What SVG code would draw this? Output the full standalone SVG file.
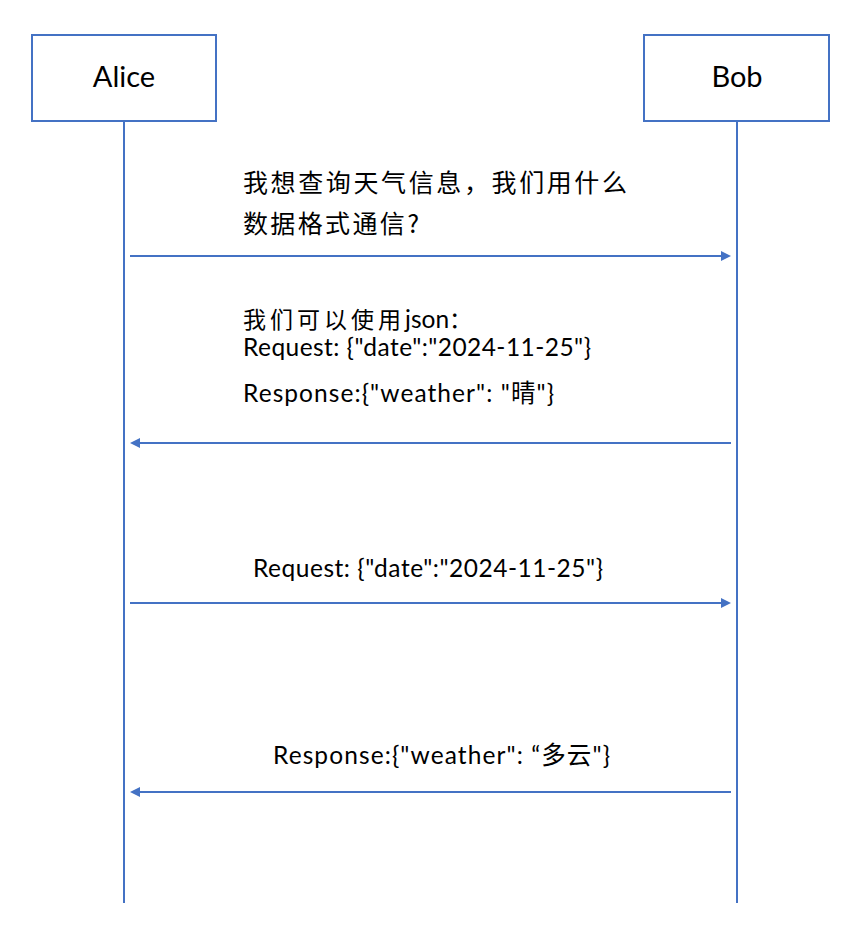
<svg xmlns="http://www.w3.org/2000/svg" width="852" height="930" viewBox="0 0 852 930">
  <style>
    .box { fill: #ffffff; stroke: #4472C4; stroke-width: 2; }
    .life { stroke: #4472C4; stroke-width: 2; fill: none; }
    .msg { stroke: #4472C4; stroke-width: 2; fill: none; marker-end: url(#arrow); }
    .name { font-family: "Lato", "Noto Sans", sans-serif; font-size: 29px; fill: #000; text-anchor: middle; }
    .cjk { font-family: "Noto Sans CJK SC", sans-serif; font-size: 25px; fill: #000; }
    .lbl { font-family: "Lato", "Noto Sans CJK SC", sans-serif; font-size: 24.5px; fill: #000; }
    .han { font-family: "Noto Sans CJK SC", sans-serif; font-size: 23px; }
  </style>
  <defs>
    <marker id="arrow" markerUnits="userSpaceOnUse" markerWidth="10" markerHeight="10" refX="1" refY="5" orient="auto">
      <path d="M0,0 L10,5 L0,10 z" fill="#4472C4"/>
    </marker>
  </defs>
  <rect width="852" height="930" fill="#ffffff"/>

  <g id="alice">
    <rect class="box" x="32" y="35" width="184" height="86"/>
    <text class="name" x="124" y="87">Alice</text>
    <line class="life" x1="124" y1="121" x2="124" y2="903"/>
  </g>

  <g id="bob">
    <rect class="box" x="644" y="35" width="185" height="86"/>
    <text class="name" x="737" y="87">Bob</text>
    <line class="life" x1="737" y1="121" x2="737" y2="903"/>
  </g>

  <g id="connectors">
    <line class="msg" x1="130" y1="256" x2="722" y2="256"/>
    <line class="msg" x1="731" y1="443" x2="139" y2="443"/>
    <line class="msg" x1="130" y1="603" x2="722" y2="603"/>
    <line class="msg" x1="731" y1="792" x2="139" y2="792"/>
  </g>

  <g id="labels">
    <text class="cjk" x="243" y="192" textLength="384" lengthAdjust="spacing">我想查询天气信息，我们用什么</text>
    <text class="cjk" x="243" y="233" textLength="176" lengthAdjust="spacing">数据格式通信?</text>
    <text class="lbl" x="243" y="328"><tspan class="han" letter-spacing="4">我们可以使用</tspan><tspan>json</tspan><tspan class="han">：</tspan></text>
    <text class="lbl" x="243" y="356" textLength="348" lengthAdjust="spacing">Request: {"date":"2024-11-25"}</text>
    <text class="lbl" x="243" y="402" textLength="311" lengthAdjust="spacing">Response:{"weather": "晴"}</text>
    <text class="lbl" x="253" y="577" textLength="350" lengthAdjust="spacing">Request: {"date":"2024-11-25"}</text>
    <text class="lbl" x="273" y="764" textLength="337" lengthAdjust="spacing">Response:{"weather": “多云"}</text>
  </g>
</svg>
